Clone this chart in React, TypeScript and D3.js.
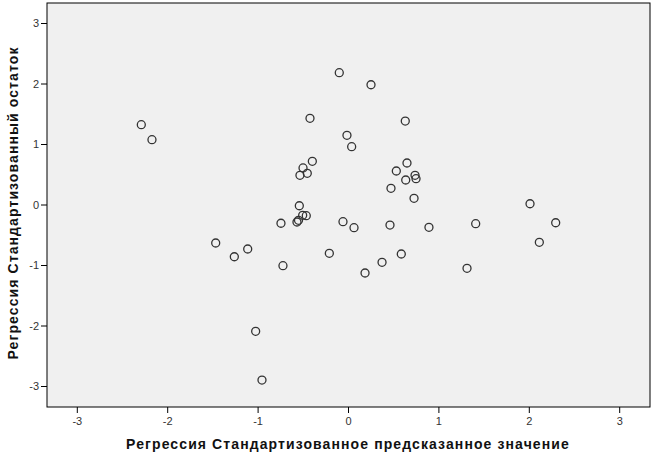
import React from "react";
import * as d3 from "d3";

const predicted: number[] = [
  -2.292, -2.174, -1.469, -1.263, -1.115, -1.027, -0.957, -0.725, -0.747, -0.57,
  -0.553, -0.544, -0.507, -0.467, -0.537, -0.503, -0.456, -0.4, -0.426, -0.102,
  0.249, -0.017, 0.035, -0.212, -0.061, 0.061, 0.183, 0.371, 0.459, 0.584,
  0.47, 0.529, 0.633, 0.647, 0.628, 0.736, 0.747, 0.725, 0.89, 1.311,
  1.407, 2.008, 2.111, 2.292,
];
const residual: number[] = [
  1.327, 1.079, -0.628, -0.855, -0.727, -2.088, -2.893, -1.003, -0.302, -0.281,
  -0.253, -0.012, -0.17, -0.177, 0.491, 0.612, 0.524, 0.722, 1.433, 2.187,
  1.988, 1.152, 0.964, -0.798, -0.276, -0.375, -1.124, -0.947, -0.331, -0.81,
  0.276, 0.562, 0.413, 0.694, 1.388, 0.491, 0.435, 0.111, -0.369, -1.046,
  -0.309, 0.021, -0.617, -0.293,
];
const xTicks: number[] = [-3, -2, -1, 0, 1, 2, 3];
const yTicks: number[] = [-3, -2, -1, 0, 1, 2, 3];
const xTitle = "Регрессия Стандартизованное предсказанное значение";
const yTitle = "Регрессия Стандартизованный остаток";

export default function App() {
  const W = 653;
  const H = 460;
  const left = 47, right = 650, top = 3, bottom = 407;
  const x = d3.scaleLinear().domain([-3, 3]).range([77.3, 619.7]);
  const y = d3.scaleLinear().domain([-3, 3]).range([386.5, 23.5]);
  const font = "'Liberation Sans', Arial, sans-serif";
  return (
    <svg
      width={W}
      height={H}
      style={{ position: "absolute", left: 0, top: 0, background: "#fff" }}
    >
      <rect x={left} y={top} width={right - left} height={bottom - top} fill="#f0f0f0" stroke="#000" strokeWidth={1} />
      {yTicks.map((t) => (
        <g key={"y" + t}>
          <line x1={41} x2={left} y1={y(t)} y2={y(t)} stroke="#000" />
          <text x={39} y={y(t)} dy="0.35em" textAnchor="end" fontSize={11} fontFamily={font} fill="#333">
            {t}
          </text>
        </g>
      ))}
      {xTicks.map((t) => (
        <g key={"x" + t}>
          <line x1={x(t)} x2={x(t)} y1={bottom} y2={413} stroke="#000" />
          <text x={x(t)} y={425} textAnchor="middle" fontSize={11} fontFamily={font} fill="#333">
            {t}
          </text>
        </g>
      ))}
      {predicted.map((v, i) => (
        <circle key={i} cx={x(v)} cy={y(residual[i])} r={4} fill="none" stroke="#333" strokeWidth={1.3} />
      ))}
      <text x={348} y={449} textAnchor="middle" fontSize={14} fontWeight="bold" fontFamily={font} fill="#111" letterSpacing={1.1}>
        {xTitle}
      </text>
      <text
        transform={`translate(17.5,203) rotate(-90)`}
        textAnchor="middle"
        fontSize={14}
        fontWeight="bold"
        fontFamily={font}
        fill="#111"
        letterSpacing={1.1}
      >
        {yTitle}
      </text>
    </svg>
  );
}
